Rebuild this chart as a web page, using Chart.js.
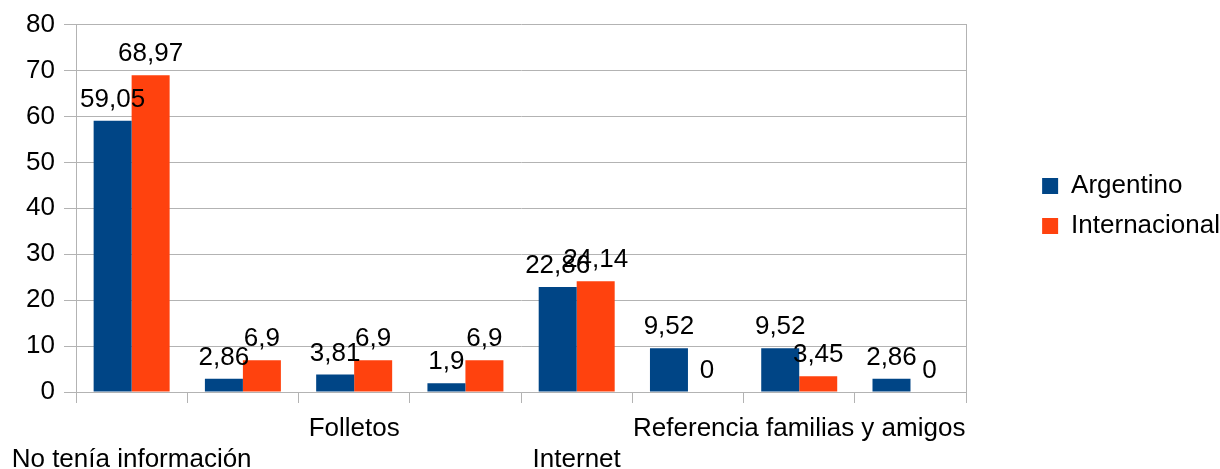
<!DOCTYPE html>
<html>
<head>
<meta charset="utf-8">
<script src="https://cdn.jsdelivr.net/npm/chart.js@4/dist/chart.umd.min.js"></script>
<style>
  html, body { margin: 0; padding: 0; background: #fff; }
</style>
</head>
<body>
<canvas id="chart" width="1220" height="469"></canvas>
<script>
// categories (the hidden ones are not readable in the picture)
const categories = ["No tenía información", "", "Folletos", "", "Internet", "", "Referencia familias y amigos", ""];
const argentino = [59.05, 2.86, 3.81, 1.9, 22.86, 9.52, 9.52, 2.86];
const internacional = [68.97, 6.9, 6.9, 6.9, 24.14, 0, 3.45, 0];
const yMin = 0, yMax = 80, yStep = 10;

const FONT = "'Liberation Sans', Arial, sans-serif";
const SIZE = 26;
const GRID = "#b3b3b3";

// labels are staggered on two rows like in the original
const xLabels = categories.map((c, i) => (i % 4 === 0 ? ["", c] : [c]));

const valueLabels = {
  id: "valueLabels",
  afterDatasetsDraw(chart) {
    const ctx = chart.ctx;
    ctx.save();
    ctx.font = SIZE + "px " + FONT;
    ctx.fillStyle = "#000";
    ctx.textAlign = "center";
    ctx.textBaseline = "alphabetic";
    chart.data.datasets.forEach((ds, i) => {
      chart.getDatasetMeta(i).data.forEach((bar, j) => {
        ctx.fillText(String(ds.data[j]).replace(".", ","), bar.x, bar.y - 14);
      });
    });
    ctx.restore();
  }
};

// move the legend up a bit, it sits higher than the centre in the original
const legendShift = {
  id: "legendShift",
  beforeDraw(chart) {
    const lg = chart.legend;
    if (lg && !lg._shifted) {
      lg.top -= 40;
      lg.bottom -= 40;
      lg._shifted = true;
    }
  }
};

new Chart(document.getElementById("chart"), {
  type: "bar",
  data: {
    labels: xLabels,
    datasets: [
      { label: "Argentino", data: argentino, backgroundColor: "#004586" },
      { label: "Internacional", data: internacional, backgroundColor: "#ff420e" }
    ]
  },
  options: {
    responsive: false,
    animation: false,
    layout: { padding: { top: 23, right: -10, bottom: 0, left: 0 } },
    datasets: { bar: { categoryPercentage: 0.683, barPercentage: 1 } },
    plugins: {
      tooltip: { enabled: false },
      legend: {
        position: "right",
        labels: {
          boxWidth: 16, boxHeight: 16, padding: 14, color: "#000",
          font: { family: FONT, size: SIZE }
        }
      }
    },
    scales: {
      x: {
        grid: { drawOnChartArea: false, tickLength: 11, color: GRID },
        border: { color: GRID },
        ticks: {
          autoSkip: false, maxRotation: 0, minRotation: 0, padding: 10, color: "#000",
          font: { family: FONT, size: SIZE, lineHeight: 31 / SIZE }
        },
        afterFit: s => {
          s.height = 77;
          s.paddingLeft = 0;
          s.paddingRight = 0;
        }
      },
      y: {
        min: yMin, max: yMax,
        ticks: { stepSize: yStep, padding: 9, color: "#000", font: { family: FONT, size: SIZE } },
        grid: { color: GRID, tickLength: 12 },
        border: { color: GRID },
        afterFit: s => { s.width = 76; }
      },
      // right frame line of the plot area
      frame: {
        position: "right",
        grid: { display: false },
        ticks: { display: false },
        border: { display: true, color: GRID },
        afterFit: s => { s.width = 62; }
      }
    }
  },
  plugins: [valueLabels, legendShift]
});
</script>
</body>
</html>
